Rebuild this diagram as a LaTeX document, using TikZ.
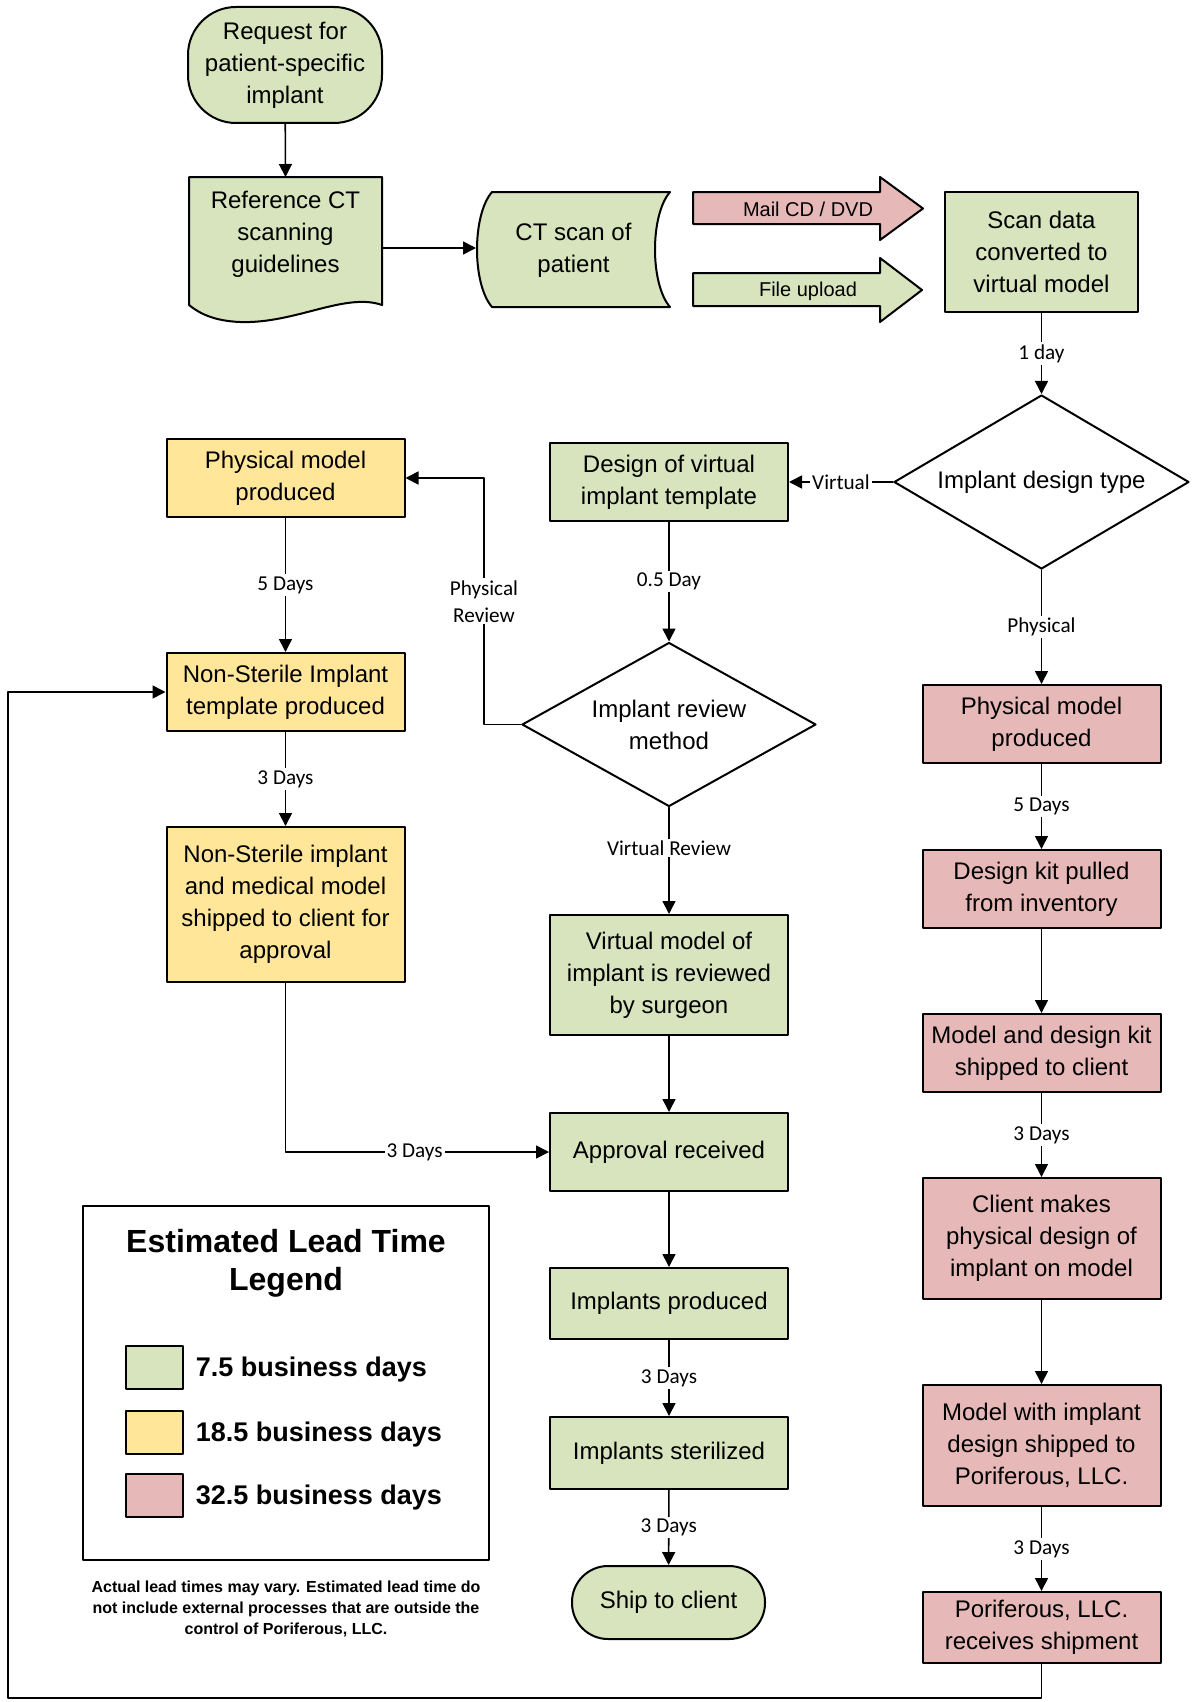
\documentclass[tikz,border=0pt]{standalone}
\usepackage{fontspec}
\setmainfont{Liberation Sans}
\newfontfamily\calibri{Carlito}
\usetikzlibrary{arrows.meta,shapes.geometric}
\definecolor{greenfill}{HTML}{D7E4BD}
\definecolor{yellowfill}{HTML}{FFE699}
\definecolor{pinkfill}{HTML}{E6B9B8}

\begin{document}
\begin{tikzpicture}[x=0.5pt, y=-0.5pt, >={Triangle[length=6.5pt,width=6.5pt]},
                    line width=0.8pt, line cap=round, line join=round,
    box/.style={draw, line width=1pt, align=center, inner sep=2pt,
                minimum width=119pt, minimum height=39pt,
                font=\fontsize{12}{16}\selectfont},
    greenbox/.style={box, fill=greenfill},
    yellowbox/.style={box, fill=yellowfill},
    pinkbox/.style={box, fill=pinkfill},
    decision/.style={diamond, draw, line width=1pt, aspect=1.7, inner sep=0pt,
                     align=center, font=\fontsize{12}{16}\selectfont},
    dlabel/.style={font=\calibri\fontsize{10.6}{13.5}\selectfont, fill=white,
                   inner sep=1pt, align=center},
    swatch/.style={draw, line width=1pt, minimum width=28.5pt, minimum height=21.5pt,
                   inner sep=0pt}]
  \useasboundingbox (0,0) rectangle (1192,1702);

  % ---- Top row: request, guidelines, CT scan, transfer ----
  \node[greenbox, rounded corners=24pt, minimum width=97pt, minimum height=58pt]
       (request) at (285,65) {Request for\\patient-specific\\implant};

  % document shape (wavy bottom)
  \draw[line width=1pt, fill=greenfill] (189,177) -- (382,177) -- (382,305)
       .. controls (345,292) and (295,324) .. (240,322)
       .. controls (215,321) and (200,314) .. (189,305) -- cycle;
  \node[box, draw=none, minimum width=96.5pt, minimum height=56pt]
       (guide) at (285.5,234) {Reference CT\\scanning\\guidelines};

  % stored data shape
  \draw[line width=1pt, fill=greenfill] (492,192) -- (670,192)
       .. controls (650,215) and (650,284) .. (670,307) -- (492,307)
       .. controls (472,284) and (472,215) .. (492,192) -- cycle;
  \node[box, draw=none, minimum width=96.5pt, minimum height=57.5pt]
       (ctscan) at (573.5,250.5) {CT scan of\\patient};

  % block arrows
  \draw[line width=1pt, fill=pinkfill] (693,192) -- (880,192) -- (880,177)
       -- (923,208.5) -- (880,240) -- (880,224) -- (693,224) -- cycle;
  \node[font=\fontsize{10}{12}\selectfont] (mail) at (808,209) {Mail CD / DVD};
  \draw[line width=1pt, fill=greenfill] (693,273) -- (880,273) -- (880,258)
       -- (922,290) -- (880,322) -- (880,306) -- (693,306) -- cycle;
  \node[font=\fontsize{10}{12}\selectfont] (upload) at (808,291) {File upload};

  \node[greenbox, minimum width=96.5pt, minimum height=60pt]
       (scan) at (1041.5,252) {Scan data\\converted to\\virtual model};

  % ---- Decisions ----
  \node[decision, minimum width=147.5pt, minimum height=87pt]
       (dtype) at (1041.5,482) {Implant design type};
  \node[decision, minimum width=147pt, minimum height=82pt]
       (review) at (669,724.5) {Implant review\\method};

  % ---- Left column (physical review) ----
  \node[yellowbox] (physmodel) at (285.5,478) {Physical model\\produced};
  \node[yellowbox] (nstemplate) at (285.5,692) {Non-Sterile Implant\\template produced};
  \node[yellowbox, minimum height=77.5pt]
       (nsship) at (285.5,904.5) {Non-Sterile implant\\and medical model\\shipped to client for\\approval};

  % ---- Middle column (virtual) ----
  \node[greenbox] (design) at (669,482) {Design of virtual\\implant template};
  \node[greenbox, minimum height=60pt]
       (vmodel) at (669,975) {Virtual model of\\implant is reviewed\\by surgeon};
  \node[greenbox] (approval) at (669,1152) {Approval received};
  \node[greenbox, minimum height=35.5pt] (produced) at (669,1303.5) {Implants produced};
  \node[greenbox, minimum height=36pt] (steril) at (669,1453) {Implants sterilized};
  \node[greenbox, rounded corners=18pt, minimum width=96.5pt, minimum height=36.5pt]
       (ship) at (668.5,1602.5) {Ship to client};

  % ---- Right column (physical design) ----
  \node[pinkbox] (physpink) at (1041.5,724) {Physical model\\produced};
  \node[pinkbox] (kit) at (1041.5,889) {Design kit pulled\\from inventory};
  \node[pinkbox] (kitship) at (1041.5,1053) {Model and design kit\\shipped to client};
  \node[pinkbox, minimum height=60.5pt]
       (client) at (1041.5,1238.5) {Client makes\\physical design of\\implant on model};
  \node[pinkbox, minimum height=60.5pt]
       (backship) at (1041.5,1445.5) {Model with implant\\design shipped to\\Poriferous, LLC.};
  \node[pinkbox, minimum height=35.5pt]
       (receive) at (1041.5,1627.5) {Poriferous, LLC.\\receives shipment};

  % ---- Connectors ----
  \draw[->] (request) -- (guide.north);
  \draw[->] (guide.east |- 0,248) -- (ctscan.west |- 0,248);
  \draw[->] (scan) -- node[dlabel] {1 day} (dtype);
  \draw[->] (dtype) -- node[dlabel] {Virtual} (design);
  \draw[->] (dtype) -- node[dlabel] {Physical} (physpink);
  \draw[->] (design) -- node[dlabel] {0.5 Day} (review);
  \draw[->] (review.west) -- ++(-37,0)
       |- node[dlabel, pos=0.25] {Physical\\Review} (physmodel.east);
  \draw[->] (physmodel) -- node[dlabel] {5 Days} (nstemplate);
  \draw[->] (nstemplate) -- node[dlabel] {3 Days} (nsship);
  \draw[->] (review) -- node[dlabel, pos=0.38] {Virtual Review} (vmodel);
  \draw[->] (vmodel) -- (approval);
  \draw[->] (nsship.south) |- node[dlabel, pos=0.745] {3 Days} (approval.west);
  \draw[->] (approval) -- (produced);
  \draw[->] (produced) -- node[dlabel] {3 Days} (steril);
  \draw[->] (steril) -- node[dlabel] {3 Days} (ship);
  \draw[->] (physpink) -- node[dlabel] {5 Days} (kit);
  \draw[->] (kit) -- (kitship);
  \draw[->] (kitship) -- node[dlabel] {3 Days} (client);
  \draw[->] (client) -- (backship);
  \draw[->] (backship) -- node[dlabel] {3 Days} (receive);

  % feedback loop back to template production
  \coordinate (loopcorner) at (8,1698);
  \draw[->] (receive.south) |- (loopcorner) |- (nstemplate.west);

  % ---- Legend ----
  \node[draw, line width=0.8pt, minimum width=203pt, minimum height=177pt, inner sep=0pt]
       (legend) at (286,1383) {};
  \node[font=\bfseries\fontsize{16}{19}\selectfont, align=center]
       (legtitle) at (286,1263) {Estimated Lead Time\\Legend};
  \foreach \i/\c/\y/\d in {1/greenfill/1367.5/7.5, 2/yellowfill/1432.5/18.5,
                           3/pinkfill/1495/32.5} {
    \node[swatch, fill=\c] (swatch\i) at (154.5,\y) {};
    \node[anchor=west, inner sep=0pt, font=\bfseries\fontsize{13.5}{16}\selectfont]
         (legtext\i) at (195,\y+2) {\d{} business days};
  }
  \node[font=\bfseries\fontsize{8}{10.5}\selectfont, align=center] (note) at (286,1609)
       {Actual lead times may vary. Estimated lead time do\\
        not include external processes that are outside the\\
        control of Poriferous, LLC.};
\end{tikzpicture}
\end{document}
